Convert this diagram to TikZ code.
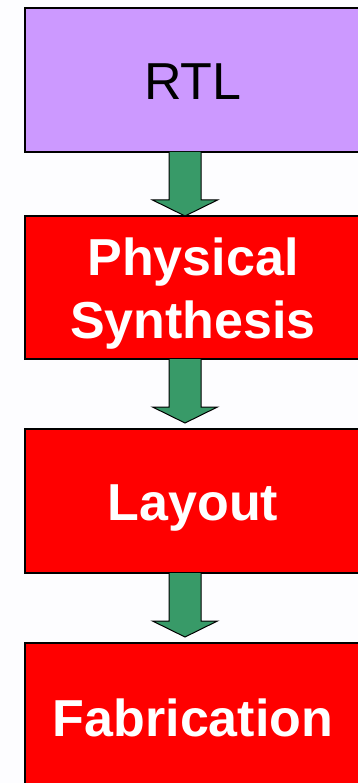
\documentclass[tikz,border=0pt]{standalone}
\usepackage{fontspec}
\setmainfont{Liberation Sans}
\usetikzlibrary{calc}
\definecolor{rtlfill}{HTML}{CC99FF}
\definecolor{boxred}{HTML}{FF0000}
\definecolor{arrgreen}{HTML}{389A68}
\definecolor{bgcol}{HTML}{FDFDFF}
\tikzset{
  stagebox/.style={draw=black, line width=1.5pt, anchor=north west, minimum width=336pt, inner sep=0pt, outer sep=0pt},
  rtltext/.style={text=black, font=\fontsize{52}{62}\selectfont, anchor=base, inner sep=0pt},
  redtext/.style={text=white, font=\bfseries\fontsize{52}{62}\selectfont, anchor=base, inner sep=0pt, align=center},
  flowarrow/.style={fill=arrgreen, draw=black, line width=1pt, line join=miter}
}
\newcommand\blockarrowdraw[1]{%
  \filldraw[flowarrow] ($(#1.south west)+(144,0)$) -- ++(0,-48) -- ++(-16.5,0) -- ++(32.5,-16) -- ++(32.5,16) -- ++(-16.5,0) -- ++(0,48);
}
\begin{document}
\begin{tikzpicture}[x=1pt,y=1pt]
\fill[bgcol] (0,0) rectangle (358,-783);
\useasboundingbox (0,0) rectangle (358,-783);
\node[stagebox, fill=rtlfill, minimum height=144pt] (rtl) at (25,-8) {};
\node[stagebox, fill=boxred, minimum height=143pt] (phys) at (25,-216) {};
\node[stagebox, fill=boxred, minimum height=144pt] (lay) at (25,-429) {};
\node[stagebox, fill=boxred, minimum height=148pt] (fab) at (25,-643) {};
\node[rtltext] (rtltxt) at ($(rtl.north)+(0,-92)$) {RTL};
\node[redtext] (physa) at ($(phys.north)+(0,-60)$) {Physical};
\node[redtext] (physb) at ($(phys.north)+(0,-122)$) {Synthesis};
\node[redtext] (laytxt) at ($(lay.north)+(0,-91)$) {Layout};
\node[redtext] (fabtxt) at ($(fab.north)+(0,-93)$) {Fabrication};
\blockarrowdraw{rtl}
\blockarrowdraw{phys}
\blockarrowdraw{lay}
\end{tikzpicture}
\end{document}
